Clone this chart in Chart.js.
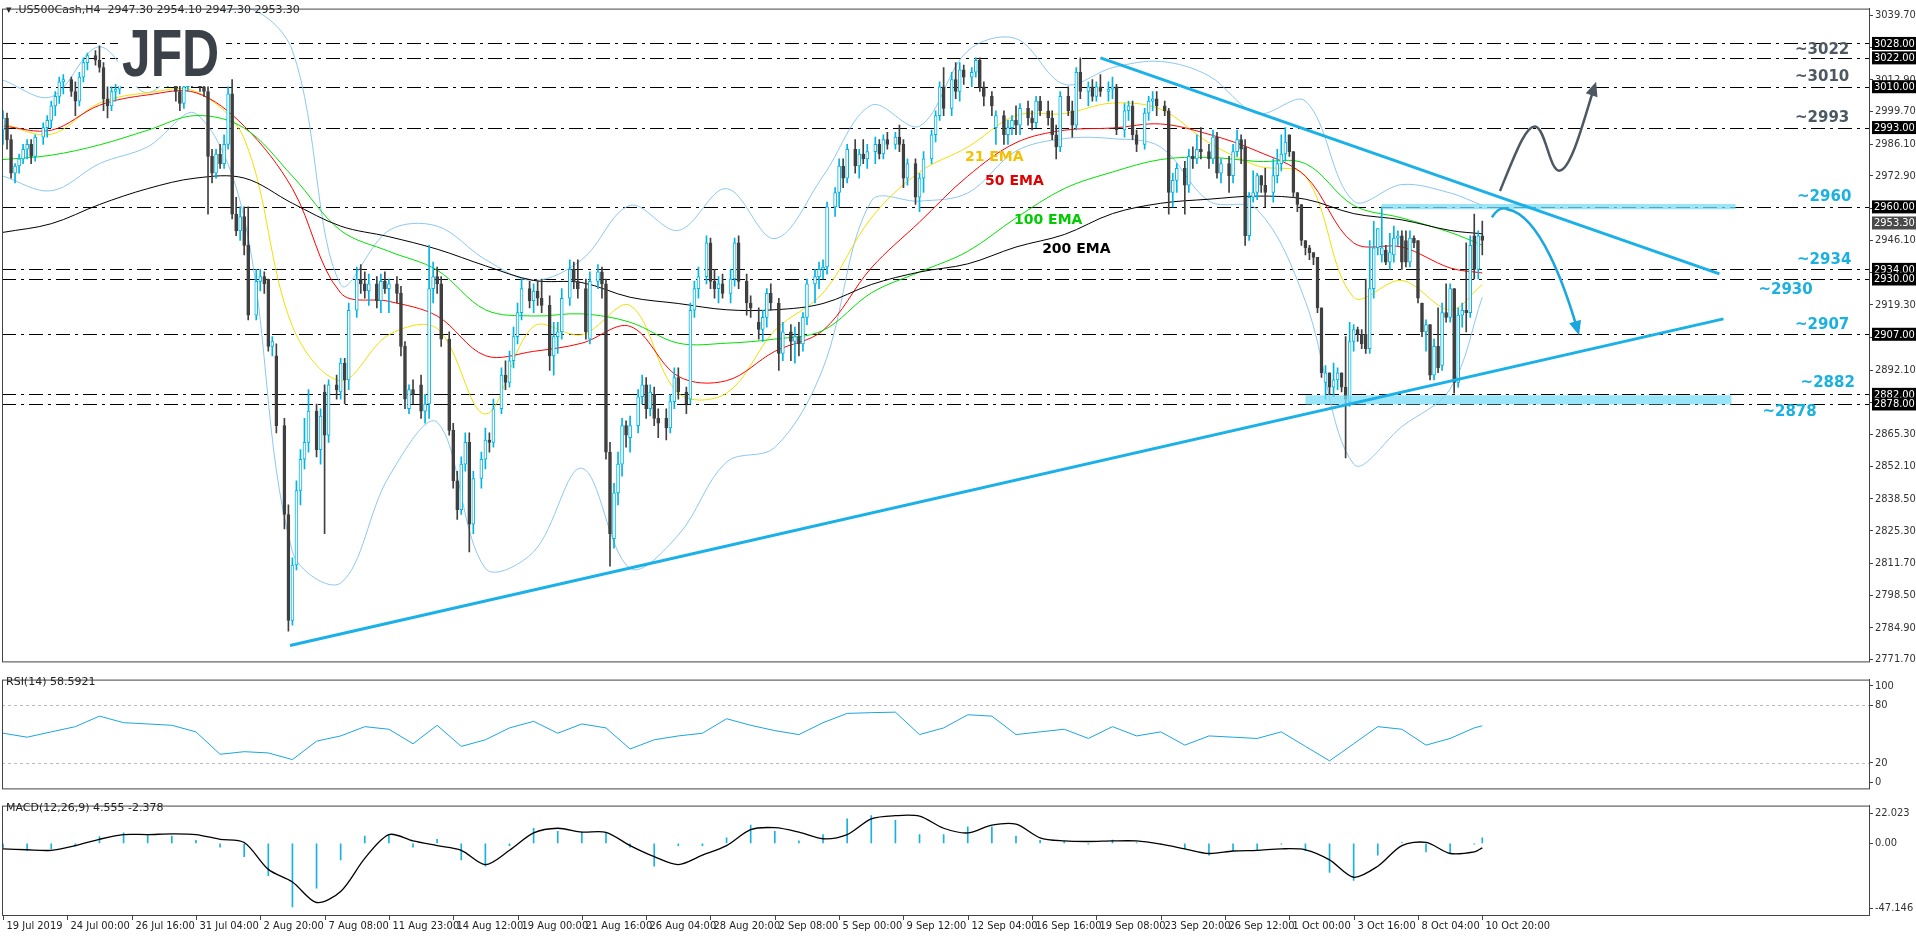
<!DOCTYPE html>
<html>
<head>
<meta charset="utf-8">
<script src="https://cdn.jsdelivr.net/npm/chart.js@4.4.0/dist/chart.umd.min.js"></script>
<style>
  body { margin: 0; background: #fff; width: 1916px; height: 936px; overflow: hidden; position: relative; }
  canvas { position: absolute; left: 0; }
</style>
</head>
<body>
<canvas id="main" width="1916" height="670" style="top:0"></canvas>
<canvas id="rsi" width="1916" height="126" style="top:671px"></canvas>
<canvas id="macd" width="1916" height="139" style="top:797px"></canvas>
<script>
// candles: bar number, open, high, low, close
const candleBar = [0,1,2,3,4,5,6,7,8,10,11,12,13,14,15,17,18,19,20,21,23,24,25,26,27,28,29,30,32,33,34,35,36,37,38,39,41,42,43,44,45,46,47,49,50,51,52,53,54,55,56,57,58,59,60,61,63,64,65,66,67,68,70,71,72,73,74,75,76,78,79,80,81,83,84,85,86,88,89,90,91,93,94,95,96,98,99,100,101,102,104,105,106,107,108,109,111,112,113,114,115,116,117,119,120,121,122,124,125,126,127,128,129,131,132,133,134,136,137,138,139,141,142,143,145,146,148,149,150,151,152,153,154,155,156,158,159,160,161,162,163,165,166,167,168,170,171,172,173,175,176,177,178,179,181,182,183,185,186,188,189,190,191,193,194,196,197,198,199,200,202,203,204,205,207,208,209,210,212,213,214,215,217,218,219,220,222,223,224,225,227,228,229,231,232,233,234,236,237,238,239,241,242,243,244,246,247,249,250,251,252,253,255,256,257,258,260,261,262,263,265,266,267,268,270,271,272,273,275,276,277,279,280,281,282,284,285,286,287,289,290,291,292,294,295,296,297,298,300,301,302,303,305,306,307,308,309,310,311,312,313,314,316,317,318,319,320,321,322,323,324,325,326,327,328,329,330,331,332,333,334,335,336,337,338,339,340,341,342,343,344,345,346,347,348,349,350,351,352,353,354,355,356,357,358,359,360,361,362,363,364,365,366,367,368,369];
const candleOpen = [2992,2997,2988,2974,2977,2980,2984,2986,2981,2989,2993,2996,3002,3006,3012,3013,3008,3004,3014,3020,3023,3021,3018,3005,3002,3008,3009,3014,3018,3016,3019,3021,3016,3013,3018,3017,3012,3016,3014,3008,3003,3010,3014,3012,3010,3008,2981,2974,2982,2978,2986,3007,2957,2950,2956,2944,2915,2929,2931,2930,2902,2898,2869,2832,2788,2811,2842,2855,2862,2875,2859,2883,2865,2886,2883,2895,2888,2917,2930,2928,2925,2928,2921,2929,2926,2928,2924,2902,2876,2884,2886,2875,2878,2926,2931,2928,2905,2867,2846,2834,2853,2862,2828,2847,2855,2863,2862,2876,2890,2887,2896,2906,2916,2926,2921,2925,2922,2919,2898,2906,2908,2922,2934,2929,2926,2905,2929,2933,2928,2858,2822,2841,2853,2869,2864,2869,2881,2886,2876,2882,2872,2872,2868,2879,2889,2883,2880,2917,2926,2931,2945,2929,2926,2928,2924,2930,2945,2929,2920,2912,2909,2914,2924,2920,2899,2908,2904,2906,2903,2914,2928,2931,2934,2935,2960,2966,2977,2972,2984,2977,2982,2980,2983,2986,2982,2988,2986,2989,2986,2972,2978,2964,2972,2980,2990,2998,3010,3001,3013,3008,3017,3014,3016,3021,3010,3006,2993,2998,2990,2993,2996,2994,3001,2997,2995,3004,3000,2997,2990,2985,3006,3000,2994,3016,3008,3010,3006,3010,3008,3009,3010,2992,3000,3002,2990,2986,2999,3004,3005,3002,3000,2966,2971,2976,2969,2981,2980,2984,2983,2980,2989,2974,2978,2973,2983,2988,2985,2948,2964,2966,2973,2969,2966,2973,2978,2982,2990,2983,2966,2961,2946,2943,2941,2939,2918,2887,2891,2885,2888,2891,2885,2879,2904,2909,2907,2907,2901,2926,2943,2940,2942,2937,2940,2947,2948,2946,2937,2947,2946,2920,2908,2911,2890,2902,2894,2916,2914,2926,2887,2915,2917,2916,2948,2934,2948,2947.3];
const candleHigh = [3000,2999,2990,2978,2982,2986,2988,2988,2990,2995,2998,3004,3008,3014,3015,3014,3012,3016,3022,3024,3025,3027,3020,3010,3010,3011,3016,3020,3022,3021,3024,3023,3019,3020,3022,3019,3018,3019,3016,3011,3012,3016,3018,3016,3014,3010,2984,2984,2986,2990,3010,3013,2964,2960,2960,2960,2934,2934,2933,2930,2906,2903,2872,2836,2814,2846,2859,2872,2884,2878,2876,2886,2888,2890,2897,2897,2920,2935,2936,2933,2932,2931,2932,2933,2930,2931,2927,2904,2886,2888,2890,2882,2944,2937,2935,2931,2908,2870,2850,2856,2866,2866,2850,2858,2868,2866,2880,2893,2896,2900,2910,2920,2930,2929,2928,2929,2930,2923,2912,2912,2926,2938,2937,2938,2930,2933,2936,2935,2930,2862,2845,2858,2872,2871,2873,2884,2890,2889,2886,2885,2876,2876,2882,2893,2893,2885,2920,2929,2935,2948,2947,2934,2931,2932,2934,2947,2948,2932,2923,2918,2917,2926,2928,2922,2912,2911,2910,2912,2916,2930,2934,2937,2938,2962,2968,2980,2980,2986,2988,2984,2988,2986,2989,2988,2990,2991,2991,2994,2988,2980,2980,2974,2983,2992,3000,3012,3018,3016,3020,3020,3019,3018,3022,3022,3012,3008,3000,3000,2996,2998,3002,3003,3004,3000,3006,3006,3004,3000,2994,3008,3010,3004,3018,3022,3012,3013,3012,3015,3012,3014,3011,3003,3004,3004,2992,3001,3006,3008,3008,3004,3001,2974,2978,2979,2984,2985,2990,2993,2986,2992,2991,2980,2981,2986,2992,2990,2988,2966,2975,2974,2972,2976,2980,2984,2990,2993,2985,2968,2963,2948,2946,2944,2941,2920,2893,2894,2890,2895,2893,2887,2906,2912,2911,2910,2909,2930,2946,2954,2946,2960,2944,2949,2952,2950,2950,2950,2950,2948,2922,2914,2913,2904,2905,2918,2920,2928,2928,2917,2918,2920,2945,2948,2957,2950,2954.1];
const candleLow = [2986,2984,2972,2970,2974,2978,2980,2978,2979,2986,2989,2993,2998,3003,3007,3006,2998,3002,3012,3017,3019,3016,3000,2997,3000,3004,3007,3012,3015,3013,3016,3014,3010,3011,3015,3011,3010,3012,3004,3000,3001,3008,3010,3008,3006,2957,2970,2972,2976,2976,2984,2955,2948,2946,2940,2913,2913,2925,2924,2900,2898,2866,2826,2783.5,2786,2809,2836,2851,2858,2856,2853,2824,2862,2880,2880,2878,2884,2914,2924,2922,2919,2918,2916,2924,2916,2920,2898,2876,2874,2878,2872,2870,2872,2920,2924,2902,2865,2843,2830,2832,2850,2816.5,2824,2843,2851,2858,2860,2874,2884,2885,2893,2903,2913,2918,2916,2919,2916,2892,2890,2899,2905,2919,2926,2922,2905,2903,2926,2922,2855,2810.5,2818,2836,2848,2860,2858,2866,2878,2872,2873,2869,2864,2863,2866,2876,2880,2874,2878,2914,2922,2928,2926,2922,2920,2922,2920,2927,2926,2915,2914,2905,2904,2910,2917,2892,2896,2896,2895,2898,2900,2911,2920,2926,2930,2932,2956,2960,2968,2970,2974,2972,2978,2976,2978,2980,2980,2984,2984,2983,2968,2969,2961,2958,2966,2978,2987,2996,2998,2998,3005,3004,3011,3010,3014,3008,3002,2998,2986,2986,2986,2990,2990,2990,2994,2992,2993,2998,2994,2988,2980,2983,2998,2989,2992,3005,3002,3004,3004,3006,3004,3005,2990,2989,2996,2988,2983,2984,2996,3000,2998,2998,2957,2960,2966,2957,2966,2976,2978,2980,2976,2978,2972,2970,2966,2970,2981,2978,2944,2946,2962,2963,2966,2960,2962,2970,2975,2979,2981,2964,2958,2944,2940,2938,2936,2916,2889,2880,2882,2881,2884,2883,2855.6,2877,2900,2904,2901,2899,2899,2922,2940,2937,2936,2934,2937,2944,2934,2935,2935,2943,2920,2906,2900,2888,2888,2891,2892,2912,2912,2882.5,2885,2910,2908,2914,2930,2930,2940,2947.3];
const candleClose = [2997,2988,2974,2977,2980,2984,2986,2981,2989,2993,2996,3002,3006,3012,3013,3008,3004,3014,3020,3023,3021,3018,3005,3002,3008,3009,3014,3018,3016,3019,3021,3016,3013,3018,3017,3012,3016,3014,3008,3003,3010,3014,3012,3010,3008,2981,2974,2982,2978,2986,3007,2957,2950,2956,2944,2915,2929,2931,2928,2902,2904,2869,2832,2788,2811,2842,2855,2862,2875,2859,2873,2865,2886,2884,2895,2888,2917,2930,2928,2925,2928,2921,2929,2926,2928,2924,2902,2880,2884,2882,2875,2878,2926,2931,2928,2905,2867,2846,2834,2853,2862,2828,2847,2855,2863,2862,2876,2890,2887,2896,2906,2916,2926,2921,2925,2922,2919,2898,2906,2908,2922,2934,2929,2926,2908,2929,2933,2928,2858,2824,2841,2853,2869,2865,2869,2881,2886,2876,2883,2872,2870,2868,2879,2889,2883,2878,2917,2926,2931,2945,2929,2926,2928,2924,2930,2945,2929,2920,2918,2909,2914,2924,2920,2899,2908,2904,2906,2903,2914,2928,2931,2934,2935,2960,2966,2977,2972,2984,2977,2982,2980,2983,2986,2982,2988,2986,2989,2986,2972,2978,2964,2972,2980,2990,2998,3010,3001,3013,3008,3017,3014,3016,3021,3010,3006,3002,2998,2990,2993,2996,2994,3001,2997,2995,3004,3000,2997,2990,2985,3006,3000,2994,3016,3008,3010,3006,3010,3008,3009,3010,2992,3000,3002,2990,2986,2999,3004,3005,3002,3000,2966,2971,2976,2969,2981,2980,2984,2983,2980,2989,2974,2978,2973,2983,2988,2984,2948,2964,2966,2973,2969,2966,2973,2978,2982,2987,2983,2966,2961,2946,2943,2941,2939,2918,2891,2891,2885,2888,2891,2885,2880,2904,2909,2907,2903,2901,2926,2943,2951,2943,2937,2941,2947,2948,2937,2937,2947,2945,2922,2908,2911,2890,2902,2893,2916,2914,2926,2887,2915,2917,2916,2944,2934,2948,2946,2953.3];

// indicator lines, sampled every 12 bars (last point = bar 368)
const lineBars = [0,12,24,36,48,60,72,84,96,108,120,132,144,156,168,180,192,204,216,228,240,252,264,276,288,300,312,324,336,348,360,368];
const ema21 = [2994.5,2990.2,3003.2,3007.5,3008,2988.4,2910.3,2887.7,2906.8,2909.4,2873.8,2910.3,2906.8,2919,2882.5,2882.5,2908.6,2924.2,2955.4,2974.5,2984.9,2998,2998.8,3003.2,3000.6,2986.7,2977.1,2972.8,2922.4,2929.4,2917.2,2927.7];
const ema50 = [2993.6,2991.9,3002.3,3006.6,3007.5,2993.6,2967.6,2924.2,2920.7,2914.6,2898.1,2899.9,2903.3,2910.3,2889.5,2887.7,2899.9,2908.6,2934.6,2953.7,2972.8,2986.7,2991.9,2992.8,2994.5,2990.2,2983.2,2972.8,2945,2943.3,2934.6,2932.5];
const ema100 = [2979.7,2981.5,2985.8,2991.9,2998,2992.8,2972.8,2950.2,2941.5,2933.7,2917.2,2914.6,2915.5,2912,2903.3,2903.3,2905,2908.6,2924.2,2932.9,2941.5,2955.4,2967.6,2974.5,2979.7,2980.6,2978.9,2978,2960.6,2955.4,2949.4,2944.1];
const ema200 = [2949.4,2953,2961,2967.6,2972,2972,2961.5,2952,2947.6,2942.4,2935.5,2929.4,2928.5,2922.4,2919.8,2917.2,2917.2,2919.8,2927.7,2932.9,2936.3,2943.3,2948.5,2957.2,2961.5,2963.2,2964.5,2963.2,2957.2,2954.6,2950.2,2948.8];
const bbUpper = [3012.7,3005.8,3026.6,3007.5,3030,3043,3025,2927.7,2950.2,2952,2938.1,2929.4,2938.1,2960.6,2950.2,2967.6,2946.8,2972.8,3002.3,2993.6,3024.9,3030,3011,3017.9,3020.5,3014.5,2998.8,3004,2962.4,2969.3,2965.8,2960.6];
const bbLower = [2972.8,2966.7,2978,2985,2998.8,2955.4,2816.5,2803.5,2847.8,2870.4,2809.6,2816.5,2851.3,2809.6,2823.5,2853.9,2859.9,2892.9,2962.4,2962.4,2965.8,2983.2,2988.4,2988.4,2984.9,2962.4,2958.9,2920.7,2853,2868.6,2884.2,2922.4];

// oscillators, sampled every 6 bars (last point = bar 368)
const oscBars = [0,6,12,18,24,30,36,42,48,54,60,66,72,78,84,90,96,102,108,114,120,126,132,138,144,150,156,162,168,174,180,186,192,198,204,210,216,222,228,234,240,246,252,258,264,270,276,282,288,294,300,306,312,318,324,330,336,342,348,354,360,366,368];
const rsiValues = [50.8,46.7,52.2,57.6,68.5,61.7,60.4,59,52.2,29,31.7,30.4,23.5,42.6,48,57.6,54.9,39.9,59,37.2,44,56.3,63.1,50.8,60.4,56.3,34.5,44,48,50.8,65.8,59,53.5,49.4,61.7,71.3,72.1,72.6,49.4,56.3,69.9,68.5,49.4,52.2,54.9,45.4,57.6,48,52.2,38.5,48,46.7,45.4,52.2,37.2,22.2,39.9,57.6,54.9,38.5,45.4,56.3,58.5];
const macdSignal = [-3.9,-4.6,-5,-1.6,3,6.4,6.4,6.9,6.4,3,0.7,-18.8,-27.9,-42.8,-34.8,-10.8,6.4,1.8,-1.6,-5,-15.3,-5,7.6,11,8.2,8,-1.6,-9.6,-15.3,-8.5,-1.6,10,11.4,8.2,3.4,6.4,17.8,20.1,19.7,11,7.6,13.3,14,4.1,1.8,1.4,1.8,1.8,-0.5,-3.9,-7.3,-5.5,-5,-3.9,-4.6,-11.9,-24.5,-16.5,-1.6,0.7,-7.3,-6.2,-3.2];
const macdHist = [-3,-5,-4,-2,5,7.6,6.4,5.3,2.3,-2.7,-9.6,-23.3,-46,-32.5,-11.9,5.3,6.4,-2.7,3,-11.9,-16.5,-1.6,11,8.7,8.2,7.6,-2.7,-16.5,-1.6,-1.6,4.1,13.3,8.7,1.8,6.4,17.8,20.1,16.7,6.4,6.4,12.1,12.1,5.3,2.3,1.4,-0.5,2.5,0.7,-0.5,-3.9,-8.5,-5,-5,-0.5,-5,-21,-26.8,-8.5,0.7,-6.2,-7.3,-0.5,4.1];

// axes
const priceTicks = [3039.7,3026.4,3012.9,2999.7,2986.1,2972.9,2959.4,2946.1,2932.6,2919.3,2905.7,2892.1,2878.8,2865.3,2852.1,2838.5,2825.3,2811.7,2798.5,2784.9,2771.7];
const levelValues = [3028,3022,3010,2993,2960,2934,2930,2907,2882,2878];
const dateLabels = ['19 Jul 2019','24 Jul 00:00','26 Jul 16:00','31 Jul 04:00','2 Aug 20:00','7 Aug 08:00','11 Aug 23:00','14 Aug 12:00','19 Aug 00:00','21 Aug 16:00','26 Aug 04:00','28 Aug 20:00','2 Sep 08:00','5 Sep 00:00','9 Sep 12:00','12 Sep 04:00','16 Sep 16:00','19 Sep 08:00','23 Sep 20:00','26 Sep 12:00','1 Oct 00:00','3 Oct 16:00','8 Oct 04:00','10 Oct 20:00'];
const dateBars = dateLabels.map((_, i) => i * 16);

const X_MIN = -0.25, X_MAX = 464.2;
const UP = '#00b4e6', DOWN = '#404040', FRAME = '#444';
const TICK_FONT = '11px "DejaVu Sans Condensed", "DejaVu Sans", sans-serif';

Chart.defaults.font.family = '"DejaVu Sans Condensed", "DejaVu Sans", sans-serif';
Chart.defaults.font.size = 11;
Chart.defaults.color = '#333';

function xScale() {
  return { type: 'linear', min: X_MIN, max: X_MAX, display: false, offset: false };
}
function yScale(min, max, ticks, fmt) {
  return {
    position: 'right', min, max,
    afterFit: s => { s.width = 47; },
    afterBuildTicks: s => { s.ticks = ticks.map(v => ({ value: v })); },
    grid: { drawOnChartArea: false, drawTicks: true, tickLength: 4, color: FRAME },
    border: { display: true, color: FRAME },
    ticks: { padding: 2, font: { size: 11 }, color: '#333', callback: fmt }
  };
}
const baseOpts = {
  responsive: false, animation: false, devicePixelRatio: 1,
  plugins: { legend: { display: false }, tooltip: { enabled: false } },
  layout: { padding: { left: 2, top: 1, right: 0, bottom: 0 } }
};

function line(data, bars, color, width, order, tension) {
  return {
    type: 'line', data: data.map((v, i) => ({ x: bars[i], y: v })),
    borderColor: color, borderWidth: width, pointRadius: 0, tension: tension === undefined ? 0.35 : tension, order
  };
}

function frame(chart) {
  const a = chart.chartArea, c = chart.ctx;
  c.save(); c.strokeStyle = FRAME; c.lineWidth = 1;
  c.strokeRect(a.left + 0.5, a.top + 0.5, a.right - a.left, a.bottom - a.top);
  c.restore();
}

// ---------- main price chart ----------
const nCandles = Math.min(candleBar.length, candleOpen.length, candleHigh.length, candleLow.length, candleClose.length);
const idx = [...Array(nCandles).keys()];
const isUp = idx.map(i => candleClose[i] >= candleOpen[i]);
const bodies = idx.map(i => {
  let lo = Math.min(candleOpen[i], candleClose[i]), hi = Math.max(candleOpen[i], candleClose[i]);
  if (hi - lo < 0.4) hi = lo + 0.4;
  return { x: candleBar[i], y: [lo, hi] };
});
const wicks = idx.map(i => ({
  x: candleBar[i],
  y: [Math.min(candleLow[i], candleOpen[i], candleClose[i]), Math.max(candleHigh[i], candleOpen[i], candleClose[i])]
}));

function curve(ctx, xs, ys, pts) {
  const P = pts.map(p => [xs.getPixelForValue(p[0]), ys.getPixelForValue(p[1])]);
  ctx.beginPath(); ctx.moveTo(P[0][0], P[0][1]);
  for (let i = 1; i + 2 < P.length; i += 3) ctx.bezierCurveTo(P[i][0], P[i][1], P[i+1][0], P[i+1][1], P[i+2][0], P[i+2][1]);
  ctx.stroke();
  const a = P[P.length - 2], b = P[P.length - 1];
  const ang = Math.atan2(b[1] - a[1], b[0] - a[0]);
  ctx.beginPath();
  ctx.moveTo(b[0] + Math.cos(ang) * 4, b[1] + Math.sin(ang) * 4);
  ctx.lineTo(b[0] + Math.cos(ang + 2.6) * 12, b[1] + Math.sin(ang + 2.6) * 12);
  ctx.lineTo(b[0] + Math.cos(ang - 2.6) * 12, b[1] + Math.sin(ang - 2.6) * 12);
  ctx.closePath(); ctx.fill();
}

const grayArrow = [[372.4,2966.6],[376.1,2981.6],[378.9,2994.6],[381.3,2993.4],[383.8,2992.2],[384.8,2974.3],[387.3,2975.1],[390.3,2975.9],[393.5,2997.9],[396.0,3010.5]];
const blueArrow = [[370.4,2955.7],[371.8,2959.3],[373.1,2960.1],[374.4,2958.9],[382.3,2956.5],[388.6,2926.8],[391.8,2908.2]];
const levelText = [
  ['~3022', 459.3, 3025.1, '#4d5863'], ['~3010', 459.3, 3014, '#4d5863'], ['~2993', 459.3, 2997, '#4d5863'],
  ['~2960', 459.8, 2964, '#1ab0e0'], ['~2934', 459.8, 2938, '#1ab0e0'], ['~2930', 450.2, 2925.5, '#1ab0e0'],
  ['~2907', 459.3, 2911, '#1ab0e0'], ['~2882', 460.7, 2886.5, '#1ab0e0'], ['~2878', 451.2, 2874.5, '#1ab0e0']
];
const emaText = [['21 EMA', 239.3, 2980.8, '#f5c000'], ['50 EMA', 244.3, 2970.5, '#e00000'], ['100 EMA', 251.5, 2954.6, '#00cc00'], ['200 EMA', 258.5, 2942.4, '#000']];

const mainPlugin = {
  id: 'mainDraw',
  beforeDatasetsDraw(chart) {
    const c = chart.ctx, a = chart.chartArea, ys = chart.scales.y;
    c.save(); c.strokeStyle = '#000'; c.lineWidth = 1; c.setLineDash([14, 5, 3, 5]);
    levelValues.forEach(v => {
      const y = Math.round(ys.getPixelForValue(v)) + 0.5;
      c.beginPath(); c.moveTo(a.left, y); c.lineTo(a.right, y); c.stroke();
    });
    c.restore();
  },
  afterDatasetsDraw(chart) {
    const c = chart.ctx, a = chart.chartArea, xs = chart.scales.x, ys = chart.scales.y;
    const px = v => xs.getPixelForValue(v), py = v => ys.getPixelForValue(v);
    c.save();
    // logo area
    c.fillStyle = '#fff'; c.fillRect(118, 2, 108, 84);
    c.save(); c.translate(122, 76); c.scale(0.78, 1);
    c.fillStyle = '#3b4148'; c.font = 'bold 66px "Liberation Sans", Arial, sans-serif';
    c.fillText('JFD', 0, 0); c.restore();
    // support / resistance bands
    c.fillStyle = 'rgba(120,220,245,0.75)';
    c.fillRect(px(343), py(2961.2), px(431) - px(343), py(2959) - py(2961.2));
    c.fillRect(px(324), py(2881.6), px(430) - px(324), py(2877.8) - py(2881.6));
    // trend lines
    c.strokeStyle = '#1ab0e8'; c.lineWidth = 3;
    c.beginPath(); c.moveTo(px(71.4), py(2777.5)); c.lineTo(px(428), py(2913.4)); c.stroke();
    c.beginPath(); c.moveTo(px(273), py(3022)); c.lineTo(px(427), py(2932.1)); c.stroke();
    // scenario arrows
    c.lineWidth = 2.5;
    c.strokeStyle = '#4d5863'; c.fillStyle = '#4d5863'; curve(c, xs, ys, grayArrow);
    c.strokeStyle = '#1aa6de'; c.fillStyle = '#1aa6de'; curve(c, xs, ys, blueArrow);
    // texts
    c.font = 'bold 15px "DejaVu Sans", sans-serif'; c.textBaseline = 'middle';
    c.textAlign = 'right';
    levelText.forEach(t => { c.fillStyle = t[3]; c.fillText(t[0], px(t[1]), py(t[2])); });
    c.textAlign = 'left'; c.font = 'bold 14px "DejaVu Sans", sans-serif';
    emaText.forEach(t => { c.fillStyle = t[3]; c.fillText(t[0], px(t[1]), py(t[2])); });
    c.font = '11px "DejaVu Sans", sans-serif'; c.fillStyle = '#222';
    c.fillText('\u25BE .US500Cash,H4  2947.30 2954.10 2947.30 2953.30', 6, 10);
    c.restore();
    frame(chart);
    // price boxes on the axis
    c.save(); c.font = TICK_FONT; c.textBaseline = 'middle'; c.textAlign = 'left';
    const boxes = levelValues.map(v => [v, '#000']).concat([[2953.3, '#4a4a4a']]);
    boxes.forEach(([v, col]) => {
      const y = py(v);
      c.fillStyle = col; c.fillRect(a.right + 3, y - 6.5, 44, 13);
      c.fillStyle = '#fff'; c.fillText(v.toFixed(2), a.right + 5, y + 0.5);
    });
    c.restore();
  }
};

new Chart(document.getElementById('main'), {
  type: 'bar',
  data: {
    datasets: [
      { data: bodies, backgroundColor: isUp.map(u => u ? '#fff' : DOWN), borderColor: isUp.map(u => u ? UP : DOWN),
        borderWidth: 1, borderSkipped: false, barThickness: 3, grouped: false, order: 0 },
      { data: wicks, backgroundColor: isUp.map(u => u ? UP : DOWN), barThickness: 1, grouped: false, order: 1 },
      line(ema200, lineBars, '#000', 1, 3),
      line(ema100, lineBars, '#00e000', 1, 3),
      line(ema50, lineBars, '#ff0000', 1, 3),
      line(ema21, lineBars, '#f0e000', 1, 3),
      line(bbUpper, lineBars, '#8cc8f0', 1, 4),
      line(bbLower, lineBars, '#8cc8f0', 1, 4)
    ]
  },
  options: Object.assign({}, baseOpts, {
    scales: { x: xScale(), y: yScale(2770.9, 3042.5, priceTicks, v => v.toFixed(2)) }
  }),
  plugins: [mainPlugin]
});

// ---------- RSI ----------
new Chart(document.getElementById('rsi'), {
  type: 'line',
  data: { datasets: [line(rsiValues, oscBars, '#1aa6de', 1, 1, 0)] },
  options: Object.assign({}, baseOpts, {
    scales: { x: xScale(), y: yScale(-6.3, 106.3, [100, 80, 20, 0], v => String(v)) }
  }),
  plugins: [{
    id: 'rsiDraw',
    beforeDatasetsDraw(chart) {
      const c = chart.ctx, a = chart.chartArea, ys = chart.scales.y;
      c.save(); c.strokeStyle = '#bbb'; c.setLineDash([3, 3]);
      [80, 20].forEach(v => { const y = Math.round(ys.getPixelForValue(v)) + 0.5; c.beginPath(); c.moveTo(a.left, y); c.lineTo(a.right, y); c.stroke(); });
      c.restore();
    },
    afterDraw(chart) {
      frame(chart);
      const c = chart.ctx; c.save(); c.font = '11px "DejaVu Sans", sans-serif'; c.fillStyle = '#222';
      c.fillText('RSI(14) 58.5921', 6, 14); c.restore();
    }
  }]
});

// ---------- MACD ----------
const macdLabels = { '22.023': '22.023', '0': '0.00', '-47.146': '-47.146' };
new Chart(document.getElementById('macd'), {
  type: 'bar',
  data: {
    datasets: [
      line(macdSignal, oscBars, '#000', 1.3, 0, 0.3),
      { data: macdHist.map((v, i) => ({ x: oscBars[i], y: v })), backgroundColor: '#1ab0e0', barThickness: 1, grouped: false, order: 1 }
    ]
  },
  options: Object.assign({}, baseOpts, {
    layout: { padding: { left: 2, top: 1, right: 0, bottom: 21 } },
    scales: { x: xScale(), y: yScale(-51.85, 27.4, [22.023, 0, -47.146], v => macdLabels[String(v)]) }
  }),
  plugins: [{
    id: 'macdDraw',
    afterDraw(chart) {
      frame(chart);
      const c = chart.ctx, a = chart.chartArea, xs = chart.scales.x;
      c.save(); c.font = '11px "DejaVu Sans", sans-serif'; c.fillStyle = '#222';
      c.fillText('MACD(12,26,9) 4.555 -2.378', 6, 14);
      c.strokeStyle = FRAME; c.font = TICK_FONT; c.textBaseline = 'middle';
      dateBars.forEach((b, i) => {
        const x = Math.round(xs.getPixelForValue(b)) + 0.5;
        c.beginPath(); c.moveTo(x, a.bottom); c.lineTo(x, a.bottom + 5); c.stroke();
        c.fillText(dateLabels[i], x + 3, a.bottom + 11);
      });
      c.restore();
    }
  }]
});
</script>
</body>
</html>
